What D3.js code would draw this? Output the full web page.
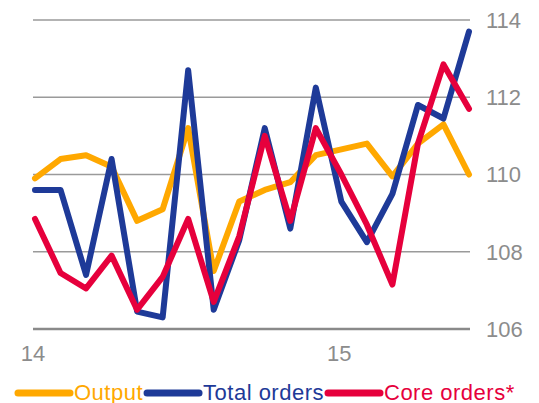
<!DOCTYPE html>
<html>
<head>
<meta charset="utf-8">
<script src="https://cdn.jsdelivr.net/npm/d3@7"></script>
<style>
  body { margin: 0; background: #fff; }
  text { font-family: "Liberation Sans", Arial, sans-serif; }
</style>
</head>
<body>
<div id="chart"></div>
<script>
// monthly index, Jan 2014 .. Jun 2015
const months = d3.range(18);
const output = [109.9, 110.4, 110.5, 110.2, 108.8, 109.1, 111.2, 107.5, 109.3, 109.6, 109.8, 110.5, 110.65, 110.8, 109.95, 110.8, 111.3, 110.0];
const totalOrders = [109.6, 109.6, 107.4, 110.4, 106.45, 106.3, 112.7, 106.5, 108.3, 111.2, 108.6, 112.25, 109.3, 108.25, 109.5, 111.8, 111.45, 113.7];
const coreOrders = [108.85, 107.45, 107.05, 107.9, 106.5, 107.35, 108.85, 106.7, 108.4, 111.0, 108.8, 111.2, 110.0, 108.7, 107.15, 110.8, 112.85, 111.7];
const yTicks = [106, 108, 110, 112, 114];
const xTickLabels = [{i: 0, label: "14"}, {i: 12, label: "15"}];
const seriesNames = ["Output", "Total orders", "Core orders*"];
const colors = ["#FFA800", "#1E3A98", "#E6003C"];

const width = 539, height = 403;
const x = d3.scaleLinear().domain([0, 17]).range([35, 469]);
const y = d3.scaleLinear().domain([106, 114]).range([329, 20]);

const svg = d3.select("#chart").append("svg")
    .attr("width", width)
    .attr("height", height);

// grid
svg.selectAll(".grid")
    .data(yTicks)
    .enter().append("line")
    .attr("class", "grid")
    .attr("x1", 33)
    .attr("x2", 470)
    .attr("y1", d => y(d))
    .attr("y2", d => y(d))
    .attr("stroke", d => d === 106 ? "#8a8a8a" : "#9a9a9a")
    .attr("stroke-width", d => d === 106 ? 2.5 : 1.5);

// y labels on right
svg.selectAll(".ylab")
    .data(yTicks)
    .enter().append("text")
    .attr("class", "ylab")
    .attr("x", 486)
    .attr("y", d => y(d))
    .attr("dy", "0.36em")
    .style("font-size", "22px")
    .attr("fill", "#8c8c8c")
    .text(d => d);

// x labels
svg.selectAll(".xlab")
    .data(xTickLabels)
    .enter().append("text")
    .attr("class", "xlab")
    .attr("x", d => x(d.i) - 2)
    .attr("y", 361)
    .attr("text-anchor", "middle")
    .style("font-size", "22px")
    .attr("fill", "#8c8c8c")
    .text(d => d.label);

const line = d3.line()
    .x((d, i) => x(months[i]))
    .y(d => y(d));

const allSeries = [output, totalOrders, coreOrders];

svg.selectAll(".series")
    .data(allSeries)
    .enter().append("path")
    .attr("class", "series")
    .attr("fill", "none")
    .attr("stroke", (d, i) => colors[i])
    .attr("stroke-width", 6)
    .attr("stroke-linejoin", "round")
    .attr("stroke-linecap", "round")
    .attr("d", line);

// legend (sits at the very bottom edge, as in the original)
const legend = svg.append("g").attr("class", "legend");
let lx = 15;
seriesNames.forEach((name, i) => {
    legend.append("line")
        .attr("x1", lx + 3)
        .attr("x2", lx + 55)
        .attr("y1", 393)
        .attr("y2", 393)
        .attr("stroke", colors[i])
        .attr("stroke-width", 7)
        .attr("stroke-linecap", "round");
    const t = legend.append("text")
        .attr("x", lx + 59)
        .attr("y", 400)
        .style("font-size", "22px")
        .style("letter-spacing", "0.5px")
        .attr("fill", colors[i])
        .text(name);
    lx += 59 + t.node().getComputedTextLength() + 1;
});
</script>
</body>
</html>
